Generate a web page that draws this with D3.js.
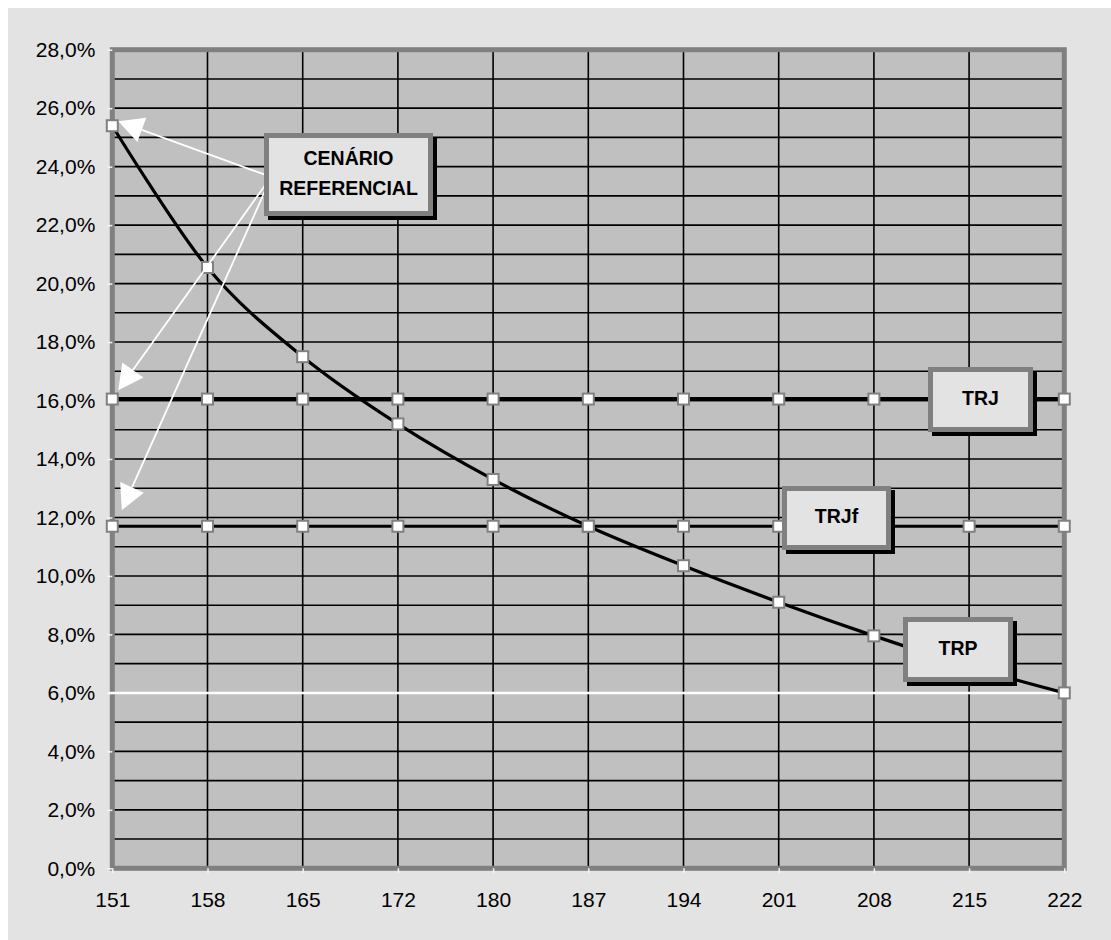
<!DOCTYPE html>
<html>
<head>
<meta charset="utf-8">
<script src="https://cdn.jsdelivr.net/npm/d3@7"></script>
<style>
  html, body { margin: 0; padding: 0; background: #ffffff; }
  svg { display: block; font-family: Arial, "Liberation Sans", sans-serif; }
</style>
</head>
<body>
<svg id="chart" width="1111" height="940"></svg>
<script>
// ---- data ----
const categories = [151, 158, 165, 172, 180, 187, 194, 201, 208, 215, 222];
const trpValues  = [25.4, 20.55, 17.5, 15.2, 13.3, 11.7, 10.35, 9.1, 7.95, 6.9, 6.0];
const trjValues  = [16.05, 16.05, 16.05, 16.05, 16.05, 16.05, 16.05, 16.05, 16.05, 16.05, 16.05];
const trjfValues = [11.7, 11.7, 11.7, 11.7, 11.7, 11.7, 11.7, 11.7, 11.7, 11.7, 11.7];
const floorLine  = 6.0;
const yTickValues = [0, 2, 4, 6, 8, 10, 12, 14, 16, 18, 20, 22, 24, 26, 28];
const yGridValues = d3.range(1, 28);
const calloutLines = [["CENÁRIO", "REFERENCIAL"], ["TRJ"], ["TRJf"], ["TRP"]];
// arrows from the scenario callout to the 151 column: [category, value]
const arrowTargets = [[151, 25.55], [151, 16.35], [151, 12.25]];

// ---- layout ----
const plot = { left: 112.3, right: 1064.3, top: 49.7, bottom: 868.3 };
const svg = d3.select("#chart");

const x = d3.scalePoint().domain(categories).range([plot.left, plot.right]);
const y = d3.scaleLinear().domain([0, 28]).range([plot.bottom, plot.top]);

// chart background
svg.append("rect").attr("x", 8).attr("y", 8).attr("width", 1103).attr("height", 932)
  .attr("fill", "#e3e3e3");

// plot area
svg.append("rect")
  .attr("x", plot.left).attr("y", plot.top)
  .attr("width", plot.right - plot.left).attr("height", plot.bottom - plot.top)
  .attr("fill", "#c0c0c0");

// gridlines
const grid = svg.append("g").attr("stroke", "#000").attr("stroke-width", 1.6);
grid.selectAll("line.h").data(yGridValues).join("line").attr("class", "h")
  .attr("x1", plot.left).attr("x2", plot.right)
  .attr("y1", d => y(d)).attr("y2", d => y(d));
grid.selectAll("line.v").data(categories.slice(1, -1)).join("line").attr("class", "v")
  .attr("x1", d => x(d)).attr("x2", d => x(d))
  .attr("y1", plot.top).attr("y2", plot.bottom);

// plot border
svg.append("rect")
  .attr("x", plot.left).attr("y", plot.top)
  .attr("width", plot.right - plot.left).attr("height", plot.bottom - plot.top)
  .attr("fill", "none").attr("stroke", "#808080").attr("stroke-width", 5);

// axes
const fmt = d => d.toFixed(1).replace(".", ",") + "%";
const yAxis = svg.append("g").attr("transform", `translate(${plot.left},0)`)
  .call(d3.axisLeft(y).tickValues(yTickValues).tickFormat(fmt).tickSize(5).tickPadding(12));
const xAxis = svg.append("g").attr("transform", `translate(0,${plot.bottom})`)
  .call(d3.axisBottom(x).tickSize(5).tickPadding(18.5));
[yAxis, xAxis].forEach(a => {
  a.select(".domain").remove();
  a.selectAll(".tick line").attr("stroke", "#f4f4f4").attr("stroke-width", 1.5);
  a.selectAll(".tick text").attr("fill", "#000").attr("font-size", 21)
    .attr("font-family", 'Arial, "Liberation Sans", sans-serif');
});

// white floor line at 6%
svg.append("line")
  .attr("x1", plot.left - 4).attr("x2", plot.right)
  .attr("y1", y(floorLine)).attr("y2", y(floorLine))
  .attr("stroke", "#ffffff").attr("stroke-width", 2.5);

// series
const series = [
  { values: trpValues,  width: 3.2, curve: d3.curveCardinal.tension(0) },
  { values: trjfValues, width: 3,   curve: d3.curveLinear },
  { values: trjValues,  width: 4.2, curve: d3.curveLinear }
];
series.forEach(s => {
  const pts = categories.map((c, i) => [x(c), y(s.values[i])]);
  svg.append("path")
    .attr("d", d3.line().curve(s.curve)(pts))
    .attr("fill", "none").attr("stroke", "#000").attr("stroke-width", s.width);
});
series.forEach(s => {
  svg.append("g").selectAll("rect")
    .data(categories.map((c, i) => [x(c), y(s.values[i])]))
    .join("rect")
    .attr("x", d => d[0] - 5.5).attr("y", d => d[1] - 5.5)
    .attr("width", 11).attr("height", 11)
    .attr("fill", "#ffffff").attr("stroke", "#808080").attr("stroke-width", 2);
});

// callout boxes
const boxes = [
  { x: 264, y: 133, w: 169, h: 83 },
  { x: 928, y: 367, w: 105, h: 65 },
  { x: 782, y: 486, w: 109, h: 64 },
  { x: 903, y: 617, w: 110, h: 65 }
];

// arrows from the scenario callout
const arrowStarts = [[267.7, 175.7], [267.7, 181.7], [267.7, 185]];
const tipOffsets = [6, 6, 9.5];
const arrows = svg.append("g");
arrowTargets.forEach((t, i) => {
  const [sx, sy] = arrowStarts[i];
  const tx = x(t[0]) + tipOffsets[i], ty = y(t[1]);
  const dx = tx - sx, dy = ty - sy, len = Math.hypot(dx, dy);
  const ux = dx / len, uy = dy / len;
  const L = 25, W = 13;
  const bx = tx - ux * L, by = ty - uy * L;
  arrows.append("line")
    .attr("x1", sx).attr("y1", sy).attr("x2", bx).attr("y2", by)
    .attr("stroke", "#ffffff").attr("stroke-width", 1.8);
  arrows.append("polygon")
    .attr("points", [[tx, ty], [bx - uy * W, by + ux * W], [bx + uy * W, by - ux * W]].map(p => p.join(",")).join(" "))
    .attr("fill", "#ffffff");
});

boxes.forEach((b, i) => {
  const g = svg.append("g");
  g.append("rect").attr("x", b.x + 4).attr("y", b.y + 4).attr("width", b.w).attr("height", b.h).attr("fill", "#000");
  g.append("rect").attr("x", b.x).attr("y", b.y).attr("width", b.w).attr("height", b.h).attr("fill", "#808080");
  g.append("rect").attr("x", b.x + 5).attr("y", b.y + 5).attr("width", b.w - 10).attr("height", b.h - 10).attr("fill", "#e3e3e3");
  const lines = calloutLines[i];
  const cx = b.x + b.w / 2, cy = b.y + b.h / 2;
  lines.forEach((txt, j) => {
    const base = lines.length === 1 ? cy + 5 : cy - 10 + j * 30;
    g.append("text").attr("x", cx).attr("y", base)
      .attr("text-anchor", "middle").attr("font-weight", "bold").attr("font-size", 19.5)
      .attr("fill", "#000").text(txt);
  });
});
</script>
</body>
</html>
